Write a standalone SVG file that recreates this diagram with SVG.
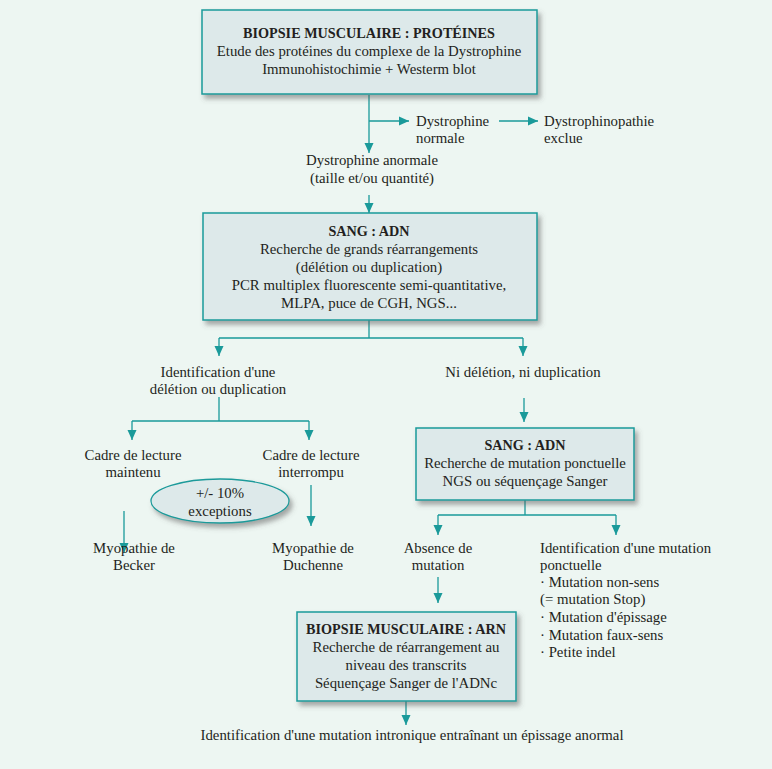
<svg xmlns="http://www.w3.org/2000/svg" width="772" height="769" viewBox="0 0 772 769">
<defs>
<style>
text{font-family:"Liberation Serif","Times New Roman",serif;font-size:14.8px;fill:#231f20}
.b{font-weight:bold;font-size:14.2px}
.m{text-anchor:middle}
.box{fill:#dde9ea;stroke:#1a9a9a;stroke-width:1.5;filter:url(#sh)}
.ln{fill:none;stroke:#1a9a9a;stroke-width:1.3}
.ar{fill:none;stroke:#1a9a9a;stroke-width:1.3;marker-end:url(#ah)}
</style>
<marker id="ah" viewBox="0 0 10 10" refX="10" refY="5" markerWidth="10" markerHeight="10" markerUnits="userSpaceOnUse" orient="auto">
<path d="M0,0.5 L10,5 L0,9.5 Z" fill="#1a9a9a"/>
</marker>
<filter id="sh" x="-10%" y="-10%" width="130%" height="140%">
<feDropShadow dx="3" dy="4" stdDeviation="2.5" flood-color="#555" flood-opacity="0.5"/>
</filter>
</defs>
<rect width="772" height="769" fill="#edf6f2"/>

<g id="connectors">
<path class="ln" d="M369,95 V121"/>
<path class="ar" d="M369,121 V153"/>
<path class="ar" d="M369,121 H409"/>
<path class="ar" d="M499,121 H538"/>
<path class="ar" d="M369,195 V213"/>
<path class="ln" d="M369,320 V338 M219,338 H523"/>
<path class="ar" d="M219,338 V356"/>
<path class="ar" d="M523,338 V356"/>
<path class="ln" d="M219,397 V421 M132,421 H309"/>
<path class="ar" d="M132,421 V440"/>
<path class="ar" d="M309,421 V440"/>
<path class="ar" d="M124,511 V553"/>
<path class="ar" d="M311,485 V526"/>
<path class="ar" d="M524,398 V422"/>
<path class="ln" d="M525,500 V515 M438,515 H616"/>
<path class="ar" d="M438,515 V535"/>
<path class="ar" d="M616,515 V535"/>
<path class="ar" d="M438,577 V603"/>
<path class="ar" d="M406,701 V725"/>
</g>

<g id="box1">
<rect class="box" x="202" y="10" width="335" height="84"/>
<text class="m b" x="369" y="38">BIOPSIE MUSCULAIRE : PROTÉINES</text>
<text class="m" x="369" y="56">Etude des protéines du complexe de la Dystrophine</text>
<text class="m" x="369" y="74">Immunohistochimie + Westerm blot</text>
</g>

<g id="normale">
<text x="416" y="126">Dystrophine</text>
<text x="416" y="143">normale</text>
</g>
<g id="exclue">
<text x="544" y="126">Dystrophinopathie</text>
<text x="544" y="143">exclue</text>
</g>
<g id="anormale">
<text class="m" x="372" y="165">Dystrophine anormale</text>
<text class="m" x="372" y="183">(taille et/ou quantité)</text>
</g>

<g id="box2">
<rect class="box" x="203" y="213" width="334" height="107"/>
<text class="m b" x="369" y="236">SANG : ADN</text>
<text class="m" x="369" y="254">Recherche de grands réarrangements</text>
<text class="m" x="369" y="272">(délétion ou duplication)</text>
<text class="m" x="369" y="290">PCR multiplex fluorescente semi-quantitative,</text>
<text class="m" x="369" y="308">MLPA, puce de CGH, NGS...</text>
</g>

<g id="delet">
<text class="m" x="218" y="377">Identification d'une</text>
<text class="m" x="218" y="394">délétion ou duplication</text>
</g>
<g id="nidel">
<text class="m" x="523" y="377">Ni délétion, ni duplication</text>
</g>

<g id="maintenu">
<text class="m" x="133" y="460">Cadre de lecture</text>
<text class="m" x="133" y="477">maintenu</text>
</g>
<g id="interrompu">
<text class="m" x="311" y="460">Cadre de lecture</text>
<text class="m" x="311" y="477">interrompu</text>
</g>

<g id="exceptions">
<ellipse cx="220" cy="501" rx="69" ry="22" fill="#dde9ea" stroke="#1a9a9a" stroke-width="1.3" filter="url(#sh)"/>
<text class="m" x="220" y="498">+/- 10%</text>
<text class="m" x="220" y="516">exceptions</text>
</g>

<g id="becker">
<text class="m" x="134" y="553">Myopathie de</text>
<text class="m" x="134" y="570">Becker</text>
</g>
<g id="duchenne">
<text class="m" x="313" y="553">Myopathie de</text>
<text class="m" x="313" y="570">Duchenne</text>
</g>

<g id="box3">
<rect class="box" x="416" y="428" width="218" height="72"/>
<text class="m b" x="525" y="450">SANG : ADN</text>
<text class="m" x="525" y="468">Recherche de mutation ponctuelle</text>
<text class="m" x="525" y="486">NGS ou séquençage Sanger</text>
</g>

<g id="absence">
<text class="m" x="438" y="553">Absence de</text>
<text class="m" x="438" y="570">mutation</text>
</g>
<g id="ponctuelle">
<text x="540" y="553">Identification d'une mutation</text>
<text x="540" y="570">ponctuelle</text>
<text x="540" y="587">· Mutation non-sens</text>
<text x="540" y="604">(= mutation Stop)</text>
<text x="540" y="622">· Mutation d'épissage</text>
<text x="540" y="640">· Mutation faux-sens</text>
<text x="540" y="657">· Petite indel</text>
</g>

<g id="box4">
<rect class="box" x="297" y="612" width="219" height="89"/>
<text class="m b" x="406" y="634">BIOPSIE MUSCULAIRE : ARN</text>
<text class="m" x="406" y="652">Recherche de réarrangement au</text>
<text class="m" x="406" y="670">niveau des transcrits</text>
<text class="m" x="406" y="688">Séquençage Sanger de l'ADNc</text>
</g>

<g id="final">
<text class="m" x="412" y="740">Identification d'une mutation intronique entraînant un épissage anormal</text>
</g>
</svg>
